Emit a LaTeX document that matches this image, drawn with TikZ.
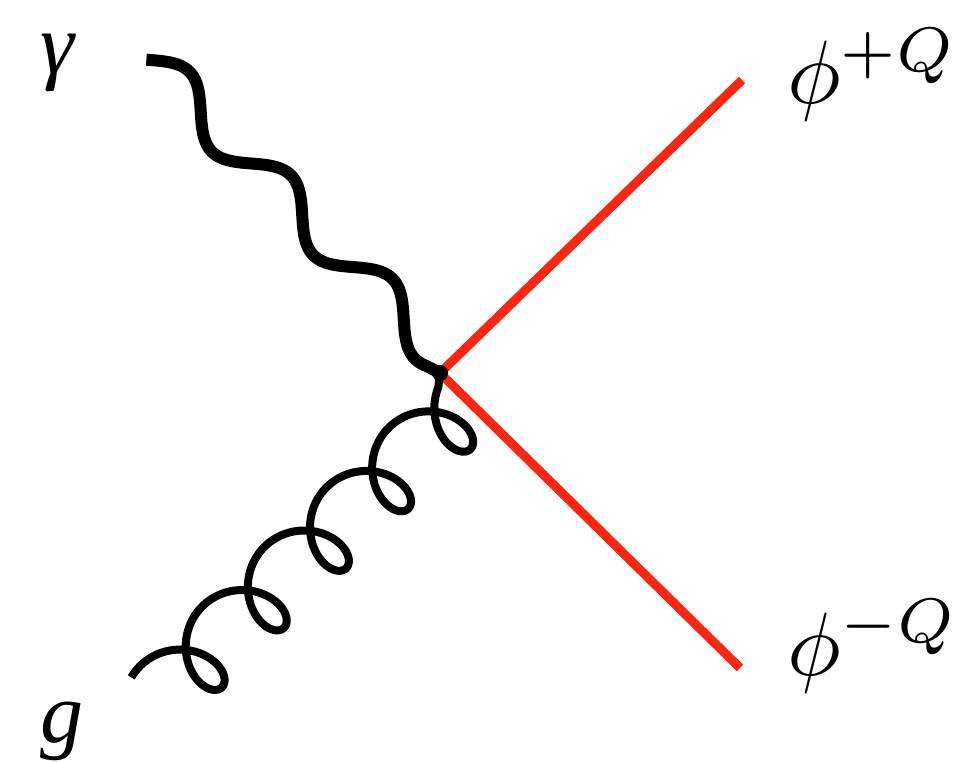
\documentclass[tikz,border=0pt]{standalone}
\usepackage{fontspec}
\newfontfamily\tnr{Liberation Serif}[ItalicFont={Liberation Serif Italic}]
\definecolor{scalarred}{RGB}{250,38,18}
\begin{document}
\begin{tikzpicture}[x=1pt,y=1pt,
  photon/.style={line width=12pt, black, line join=round},
  gluon/.style={line width=8pt, black, line join=round},
  scalar/.style={line width=9pt, scalarred},
  vdot/.style={circle, fill=black, inner sep=0pt, minimum size=16pt},
  lbl/.style={inner sep=0pt, anchor=base west}]
\useasboundingbox (0,0) rectangle (953,761);
\coordinate (v) at (440,388);
\coordinate (ga) at (143,691);
\coordinate (gb) at (128,89);
\coordinate (pa) at (742,681);
\coordinate (pb) at (740,93);
\draw[scalar] (v) -- (pa);
\draw[scalar] (v) -- (pb);
\begin{scope}[shift={(ga)}, rotate=-45.57]
\draw[photon] plot[domain=-5:410, samples=220, smooth] (\x, {12+20*sin(2.4828*\x+5.6)}) -- (v);
\end{scope}
\begin{scope}[shift={(gb)}, rotate=43.78]
\draw[gluon] plot[domain=-20:1769, samples=700, smooth, variable=\t] ({14+0.23911*\t+31*sin(\t)}, {-(40-36*cos(\t))}) -- (v);
\end{scope}
\node[vdot] (vd) at (v) {};
\node[lbl] (lg) at (40,687) {\fontsize{86}{90}\selectfont\tnr\itshape γ};
\node[lbl] (lgl) at (40,19) {\fontsize{86}{90}\selectfont\tnr\itshape g};
\node[lbl] (lp) at (787,657) {\scalebox{9.0}{$\phi^{+Q}$}};
\node[lbl] (lm) at (787,86) {\scalebox{9.0}{$\phi^{-Q}$}};
\end{tikzpicture}
\end{document}
